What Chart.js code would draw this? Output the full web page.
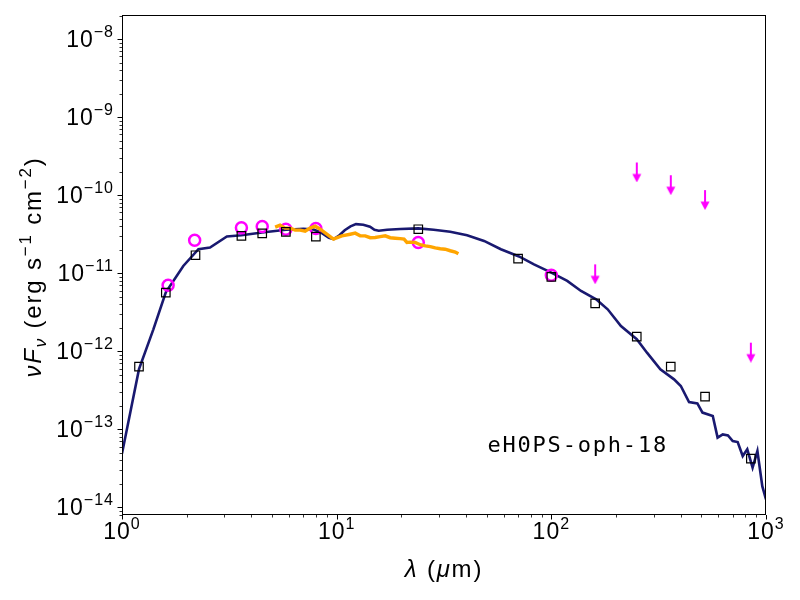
<!DOCTYPE html>
<html><head><meta charset="utf-8">
<script src="https://cdn.jsdelivr.net/npm/chart.js@4.4.1/dist/chart.umd.min.js"></script>
<style>html,body{margin:0;padding:0;background:#fff;} #wrap{width:800px;height:600px;position:relative;}</style>
</head><body><div id="wrap"><canvas id="c" width="800" height="600"></canvas></div>
<script>
// ---- data ----
const modelLambda = [1.0,1.1,1.2,1.4,1.6,1.93,2.27,2.57,3.08,3.6,4.5,5.8,7.0,7.8,8.4,9.2,9.7,10.3,10.9,11.6,12.3,13.3,14.3,15.0,15.7,17.2,19.8,24,28.3,33.8,40.5,48.6,58.2,70.7,83,100,118.6,137.5,161.7,183,211,250,279,322,373,401,438,479,506,565,595,629,665,700,738,779,818,866,912,961,1000];
const modelFlux = [4.9e-14,1.8e-13,5.9e-13,1.91e-12,5.7e-12,1.24e-11,2.03e-11,2.13e-11,2.96e-11,3.07e-11,3.32e-11,3.6e-11,3.7e-11,3.63e-11,3.35e-11,2.85e-11,2.73e-11,3.07e-11,3.55e-11,3.98e-11,4.25e-11,4.18e-11,3.95e-11,3.6e-11,3.5e-11,3.6e-11,3.68e-11,3.75e-11,3.6e-11,3.4e-11,3.07e-11,2.59e-11,2.03e-11,1.64e-11,1.30e-11,1.02e-11,7.97e-12,5.93e-12,4.64e-12,3.45e-12,2.11e-12,1.43e-12,9.6e-13,5.88e-13,4.37e-13,3.59e-13,2.24e-13,2.15e-13,1.64e-13,1.48e-13,7.83e-14,8.63e-14,8.38e-14,7.08e-14,6.87e-14,4.55e-14,5.55e-14,3.23e-14,5.27e-14,1.87e-14,1.27e-14];

const specLambda = [5.17,5.45,5.75,6.07,6.41,6.76,7.13,7.52,7.94,8.38,9.0,9.66,10.57,11.56,12.2,12.87,13.58,14.33,15.12,15.95,16.83,17.76,18.74,19.77,20.6,21.25,22.0,23.2,24.5,25.9,27.3,28.8,30.4,32.0,33.8,35.7,36.9];
const specFlux = [3.89e-11,4.12e-11,3.78e-11,3.78e-11,3.56e-11,3.56e-11,3.45e-11,3.78e-11,4.0e-11,3.66e-11,3.16e-11,2.73e-11,3.01e-11,3.16e-11,3.26e-11,3.01e-11,3.01e-11,2.85e-11,2.87e-11,2.94e-11,3.01e-11,2.85e-11,2.81e-11,2.77e-11,2.73e-11,2.48e-11,2.5e-11,2.48e-11,2.32e-11,2.24e-11,2.19e-11,2.11e-11,2.06e-11,2.03e-11,1.94e-11,1.87e-11,1.78e-11];

const photLambda = [1.2,1.6,2.2,3.6,4.5,5.8,8.0,24,70,100,160,250,360,520,850];
const photFlux = [6.37e-13,5.65e-12,1.70e-11,3.01e-11,3.23e-11,3.39e-11,2.95e-11,3.66e-11,1.54e-11,8.97e-12,4.12e-12,1.54e-12,6.37e-13,2.62e-13,4.21e-14];

const altLambda = [1.64,2.18,3.6,4.5,5.8,8.0,24,100];
const altFlux = [7.0e-12,2.65e-11,3.81e-11,3.97e-11,3.66e-11,3.74e-11,2.48e-11,9.42e-12];

const ulLambda = [160,250,360,520,850];
const ulFlux = [1.30e-11,2.62e-10,1.80e-10,1.16e-10,1.29e-12];

const xTickExps = [0,1,2,3];
const yTickExps = [-14,-13,-12,-11,-10,-9,-8];
const xRange = [1,1000];
const yRange = [8e-15,2.03e-8];
const sourceName = 'eH0PS-oph-18';

// ---- helpers ----
const pts = (xs, ys) => xs.map((x,i)=>({x:x, y:ys[i]}));
const SANS = '"Liberation Sans", Arial, Helvetica, sans-serif';

function makeArrow(){
  const c = document.createElement('canvas');
  c.width = 12; c.height = 40;
  const g = c.getContext('2d');
  g.strokeStyle = '#ff00ff'; g.fillStyle = '#ff00ff';
  g.lineWidth = 2;
  g.beginPath(); g.moveTo(6,20); g.lineTo(6,33); g.stroke();
  g.beginPath(); g.moveTo(1.5,31.5); g.lineTo(10.5,31.5); g.lineTo(6,40); g.closePath(); g.fill();
  return c;
}

function fontStr(s){ return (s.italic?'italic ':'') + s.size + 'px ' + SANS; }
function drawRich(ctx, segs, x, y, align, spacing){
  const sp = spacing||0;
  try { ctx.letterSpacing = sp+'px'; } catch(err){}
  const widths = segs.map(s=>{ctx.font=fontStr(s); return ctx.measureText(s.t).width;});
  const total = widths.reduce((a,b)=>a+b,0);
  let cx = align==='center' ? x-total/2 : (align==='right' ? x-total : x);
  ctx.textAlign='left'; ctx.textBaseline='alphabetic';
  segs.forEach((s,i)=>{ctx.font=fontStr(s); ctx.fillText(s.t, cx, y+(s.dy||0)); cx+=widths[i];});
  try { ctx.letterSpacing = '0px'; } catch(err){}
}
function expLabel(e){
  const m = e<0 ? '\u2212'+Math.abs(e) : String(e);
  return [{t:'10',size:23},{t:m,size:16,dy:-10}];
}

const decor = {
  id:'decor',
  afterDraw(chart){
    const ctx = chart.ctx, a = chart.chartArea;
    const xs = chart.scales.x, ys = chart.scales.y;
    ctx.save();
    ctx.fillStyle='#000'; ctx.strokeStyle='#000';
    // frame
    ctx.lineWidth=1;
    ctx.strokeRect(a.left+0.5, a.top+0.5, a.right-a.left-1, a.bottom-a.top-1);
    // ticks
    function tick(px, major, axis){
      const L = major?4.5:2.5;
      ctx.lineWidth = major?1:0.8;
      ctx.beginPath();
      if(axis==='x'){ ctx.moveTo(px, a.bottom); ctx.lineTo(px, a.bottom+L); }
      else { ctx.moveTo(a.left, px); ctx.lineTo(a.left-L, px); }
      ctx.stroke();
    }
    for(let e=-15;e<=-8;e++){
      for(let k=1;k<=9;k++){
        const v=k*Math.pow(10,e);
        if(v<yRange[0]*0.999||v>yRange[1]*1.001) continue;
        tick(Math.round(ys.getPixelForValue(v))+0.5, k===1, 'y');
      }
    }
    for(let e=0;e<=3;e++){
      for(let k=1;k<=9;k++){
        const v=k*Math.pow(10,e);
        if(v<xRange[0]*0.999||v>xRange[1]*1.001) continue;
        tick(Math.round(xs.getPixelForValue(v))+0.5, k===1, 'x');
      }
    }
    // tick labels
    yTickExps.forEach(e=>{
      const py = ys.getPixelForValue(Math.pow(10,e));
      drawRich(ctx, expLabel(e), a.left-8, py+8, 'right', 1);
    });
    xTickExps.forEach(e=>{
      const px = xs.getPixelForValue(Math.pow(10,e));
      drawRich(ctx, expLabel(e), px, a.bottom+24, 'center', 1);
    });
    // axis titles
    drawRich(ctx, [{t:'\u03bb',size:24,italic:true},{t:' (',size:24},{t:'\u03bc',size:24,italic:true},{t:'m)',size:24}], (a.left+a.right)/2, 577, 'center', 1.8);
    ctx.save();
    ctx.translate(41, (a.top+a.bottom)/2 + 2);
    ctx.rotate(-Math.PI/2);
    drawRich(ctx, [
      {t:'\u03bd',size:24,italic:true},{t:'F',size:24,italic:true},{t:'\u03bd',size:17,italic:true,dy:5},
      {t:' (erg s',size:24},{t:'\u22121',size:17,dy:-10},{t:' cm',size:24},{t:'\u22122',size:17,dy:-10},{t:')',size:24}
    ], 0, 0, 'center', 1.8);
    ctx.restore();
    // source name
    ctx.font = '22px "DejaVu Sans Mono", monospace';
    try { ctx.letterSpacing = '1.8px'; } catch(err){}
    ctx.textAlign='left'; ctx.textBaseline='alphabetic';
    ctx.fillText(sourceName, a.left + 0.569*(a.right-a.left) - 1, 452);
    try { ctx.letterSpacing = '0px'; } catch(err){}
    ctx.restore();
  }
};

const fixX = s => { s.height = 85; };
const fixY = s => { s.width = 122; };

new Chart(document.getElementById('c'), {
  type:'scatter',
  data:{ datasets:[
    {label:'model', data:pts(modelLambda,modelFlux), showLine:true, borderColor:'#191970', borderWidth:2.6, pointRadius:0, order:5, tension:0},
    {label:'circles', data:pts(altLambda,altFlux), pointStyle:'circle', pointRadius:5.5, borderColor:'#ff00ff', borderWidth:2.5, backgroundColor:'rgba(0,0,0,0)', showLine:false, order:4},
    {label:'upper', data:pts(ulLambda,ulFlux), pointStyle:makeArrow(), pointRadius:10, showLine:false, order:3},
    {label:'spectrum', data:pts(specLambda,specFlux), showLine:true, borderColor:'#ffa500', borderWidth:3.4, pointRadius:0, order:2, tension:0},
    {label:'phot', data:pts(photLambda,photFlux), pointStyle:'rect', pointRadius:6, borderColor:'#000', borderWidth:1.2, backgroundColor:'rgba(0,0,0,0)', showLine:false, order:1}
  ]},
  options:{
    responsive:false, animation:false, events:[],
    layout:{padding:{left:0,right:34,top:15,bottom:0}},
    plugins:{legend:{display:false}, tooltip:{enabled:false}},
    scales:{
      x:{type:'logarithmic', min:xRange[0], max:xRange[1], afterFit:fixX,
         ticks:{display:false}, grid:{display:false}, border:{display:false}},
      y:{type:'logarithmic', min:yRange[0], max:yRange[1], afterFit:fixY,
         ticks:{display:false}, grid:{display:false}, border:{display:false}}
    }
  },
  plugins:[decor]
});
</script></body></html>
